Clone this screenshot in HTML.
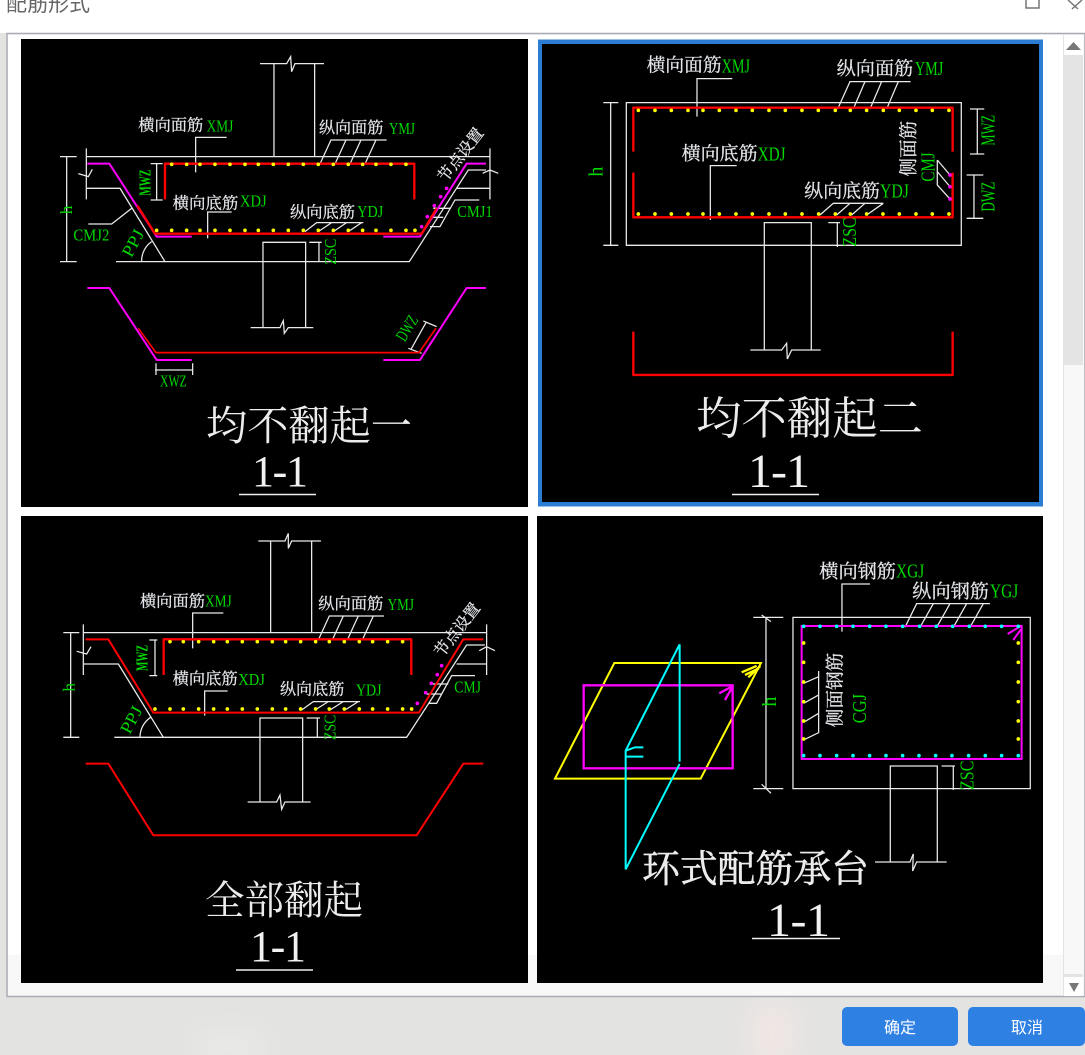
<!DOCTYPE html>
<html lang="zh"><head><meta charset="utf-8"><title>配筋形式</title>
<style>
html,body{margin:0;padding:0;width:1085px;height:1055px;overflow:hidden;background:#e3e3e2}
svg{position:absolute;left:0;top:0;display:block}
.w{fill:none;stroke:#eaeaea;stroke-width:3.8}
.r{fill:none;stroke:#f00;stroke-width:7;stroke-linejoin:round}
.m{fill:none;stroke:#f0f;stroke-width:6}
.y{fill:none;stroke:#ff0;stroke-width:11;stroke-linecap:round}
.d{fill:none;stroke:#f0f;stroke-width:11;stroke-linecap:round}
.e{fill:none;stroke:#0ff;stroke-width:11;stroke-linecap:round}
.c{fill:#e4e6ea;stroke:#e4e6ea;stroke-width:.8;font-family:"Liberation Serif","Noto Serif CJK SC",serif;font-size:48px}
.g{fill:#00d800;font-family:"Liberation Serif",serif;font-size:52px}
.h{font-size:60px}
.t{fill:#ececec;font-family:"Liberation Serif","Noto Serif CJK SC",serif}
.n{fill:#f2f2f2;font-family:"Liberation Serif",serif;font-size:44px}
.b{fill:#fff;font-family:"Liberation Sans","Noto Sans CJK SC",sans-serif;font-size:16px;text-anchor:middle}
</style></head><body>
<svg width="1085" height="1055" viewBox="0 0 1085 1055" xmlns="http://www.w3.org/2000/svg">
<defs><filter id="bl" x="-100%" y="-100%" width="300%" height="300%"><feGaussianBlur stdDeviation="12"/></filter></defs>
<rect width="1085" height="1055" fill="#e3e3e2"/>
<rect x="750" y="1005" width="45" height="60" fill="#f0e6e4" filter="url(#bl)"/>
<rect x="195" y="1030" width="70" height="35" fill="#e8e8e6" filter="url(#bl)"/>
<rect width="1085" height="33" fill="#fff"/>
<text x="6" y="11" font-size="21" fill="#666" font-family="'Liberation Sans','Noto Sans CJK SC',sans-serif">配筋形式</text>
<path d="M1026 0V8H1039V0" fill="none" stroke="#777" stroke-width="1.500"/>
<path d="M1068 0L1078 9M1082 0L1072 9" fill="none" stroke="#777" stroke-width="1.500"/>
<rect x="7" y="33.500" width="1078" height="963" fill="#f8f8f8" stroke="#a9abb3" stroke-width="1.500"/>
<rect x="8" y="35" width="1055" height="920" fill="#fff"/>
<rect x="1063" y="34" width="20" height="962" fill="#e4e4e4"/>
<rect x="1064" y="35" width="19" height="20" fill="#fff"/>
<path d="M1066 50L1073.500 42L1081 50Z" fill="#777"/>
<rect x="1064" y="365" width="19" height="609" fill="#f8f8f8"/>
<rect x="1064" y="977" width="19" height="19" fill="#fff"/>
<path d="M1069 983H1079L1074 992Z" fill="#777"/>
<rect x="21" y="39" width="507" height="468" fill="#000"/>
<rect x="538" y="39.500" width="505" height="467" fill="#2b7cd3"/>
<rect x="542" y="44" width="497" height="458" fill="#000"/>
<rect x="21" y="516" width="507" height="467" fill="#000"/>
<rect x="537" y="516" width="506" height="467" fill="#000"/>

<!-- Panel 1 -->
<g transform="translate(20 40) scale(.3333)">
<path class="w" d="M720 71H800L812 50L815 95L825 71H912M762 71V350M884 71V350M200 350H1410M199 325V478M1410 325V478M200 445H300L435 665M288 665H1168L1345 390H1398M1310 445H1410M365 665A70 70 0 0 1 395 605M140 350V665M120 350H170M120 665H170M175 401L205 410L217 388M1388 400L1410 390L1435 400M620 292H527V397M1100 300H933L900 372M978 300L945 372M1023 300L990 372M1068 300L1035 372M635 516H563V595M1030 548H890L855 575M935 548L895 575M980 548L940 575M1025 548L985 575M410 371V480M392 371H428M392 480H428M729 863V607H857V863M692 863H780L790 842L793 880L805 863H880M868 607H905M897 607V665M205 552H275L335 505M1378 480H1305L1260 560H1230M1240 505H1290M1230 532H1270M1218 848L1172 930M1210 843L1250 860M1165 925L1205 940M405 990H520M408 970V1005M518 970V1005"/>
<path class="m" d="M202 371H268L410 590H515M1090 590H1200L1340 371H1398M202 744H268L410 960H515M1090 960H1200L1340 744H1398"/>
<path class="r" d="M435 478V371H1183V478M352 497L405 581H1205L1250 505"/>
<path class="r" style="stroke-width:5" d="M355 865L408 938H1197L1248 865"/>
<path class="y" d="M455 373h.01M500 373h.01M540 373h.01M585 373h.01M630 373h.01M675 373h.01M715 373h.01M760 373h.01M805 373h.01M850 373h.01M895 373h.01M940 373h.01M985 373h.01M1028 373h.01M1068 373h.01M1113 373h.01M1158 373h.01M410 571h.01M455 571h.01M500 571h.01M540 571h.01M585 571h.01M630 571h.01M675 571h.01M715 571h.01M760 571h.01M805 571h.01M850 571h.01M895 571h.01M940 571h.01M985 571h.01M1028 571h.01M1068 571h.01M1113 571h.01M1158 571h.01M1185 571h.01"/>
<path class="d" d="M1205 560h.01M1222 530h.01M1243 497h.01M1262 470h.01M1280 445h.01"/>
<text class="c" x="355" y="272" textLength="195" lengthAdjust="spacingAndGlyphs">横向面筋</text>
<text class="g" x="560" y="274" textLength="80" lengthAdjust="spacingAndGlyphs">XMJ</text>
<text class="c" x="897" y="279" textLength="193" lengthAdjust="spacingAndGlyphs">纵向面筋</text>
<text class="g" x="1107" y="282" textLength="78" lengthAdjust="spacingAndGlyphs">YMJ</text>
<text class="c" x="458" y="505" textLength="197" lengthAdjust="spacingAndGlyphs">横向底筋</text>
<text class="g" x="660" y="499" textLength="80" lengthAdjust="spacingAndGlyphs">XDJ</text>
<text class="c" x="810" y="532" textLength="195" lengthAdjust="spacingAndGlyphs">纵向底筋</text>
<text class="g" x="1012" y="531" textLength="78" lengthAdjust="spacingAndGlyphs">YDJ</text>
<text class="g" x="160" y="602" textLength="108" lengthAdjust="spacingAndGlyphs">CMJ2</text>
<text class="g" x="1312" y="531" textLength="106" lengthAdjust="spacingAndGlyphs">CMJ1</text>
<text class="g" x="420" y="1039" textLength="80" lengthAdjust="spacingAndGlyphs">XWZ</text>
<g text-anchor="middle">
<text class="c" transform="translate(1322 345) rotate(-52)" y="16" textLength="190" lengthAdjust="spacingAndGlyphs">节点设置</text>
<text class="g" transform="translate(340 610) rotate(-62)" y="16" textLength="85" lengthAdjust="spacingAndGlyphs">PPJ</text>
<text class="g" transform="translate(140 510) rotate(-90)" y="16">h</text>
<text class="g" transform="translate(932 635) rotate(-90)" y="16" textLength="78" lengthAdjust="spacingAndGlyphs">ZSC</text>
<text class="g" style="font-weight:bold" transform="translate(375 428) rotate(-90)" y="16" textLength="78" lengthAdjust="spacingAndGlyphs">MWZ</text>
<text class="g" transform="translate(1162 865) rotate(-58)" y="16" textLength="80" lengthAdjust="spacingAndGlyphs">DWZ</text>
</g>
</g>
<text class="t" x="206" y="440" font-size="41" textLength="206" lengthAdjust="spacingAndGlyphs">均不翻起一</text>
<text class="n" x="252" y="486" textLength="56" lengthAdjust="spacing">1-1</text>
<path d="M239 494.500H316" stroke="#eee" stroke-width="1.500"/>

<!-- Panel 2 -->
<g transform="translate(535 35) scale(.3333)">
<path class="w" d="M274 203H1279V631H274ZM592 131H486V245M1127 140H945L908 222M990 140L955 222M1040 140L1005 222M1090 140L1055 222M605 392H526V555M1045 505H895L855 540M945 505L905 540M990 505L950 540M1045 505L995 540M646 945H740L755 925L757 972L770 945H857M688 945V563H829V945M880 563H915M907 563V636M227 203V631M205 203H250M205 631H250M1327 222V357M1305 222H1348M1305 357H1348M1317 420V550M1295 420H1345M1295 550H1345M1207 375L1245 420M1207 410L1245 455M1207 375V450L1245 492"/>
<path class="r" d="M295 350V218H1253V350M295 413V547H1253V413M295 890V1020H1253V890"/>
<path class="y" d="M310 226h.01M360 226h.01M409 226h.01M459 226h.01M504 226h.01M553 226h.01M603 226h.01M652 226h.01M702 226h.01M751 226h.01M801 226h.01M850 226h.01M901 226h.01M946 226h.01M995 226h.01M1045 226h.01M1093 226h.01M1143 226h.01M1192 226h.01M1242 226h.01M310 537h.01M360 537h.01M409 537h.01M459 537h.01M504 537h.01M553 537h.01M603 537h.01M652 537h.01M702 537h.01M751 537h.01M801 537h.01M851 537h.01M901 537h.01M946 537h.01M995 537h.01M1044 537h.01M1093 537h.01M1143 537h.01M1192 537h.01M1242 537h.01"/>
<path class="d" d="M1245 420h.01M1245 455h.01M1245 492h.01"/>
<text class="c" style="font-size:56px" x="335" y="110" textLength="225" lengthAdjust="spacingAndGlyphs">横向面筋</text>
<text class="c" style="font-size:56px" x="905" y="120" textLength="230" lengthAdjust="spacingAndGlyphs">纵向面筋</text>
<text class="c" style="font-size:56px" x="440" y="375" textLength="228" lengthAdjust="spacingAndGlyphs">横向底筋</text>
<text class="c" style="font-size:56px" x="808" y="487" textLength="227" lengthAdjust="spacingAndGlyphs">纵向底筋</text>
<text class="g h" x="560" y="112" textLength="85" lengthAdjust="spacingAndGlyphs">XMJ</text>
<text class="g h" x="1140" y="120" textLength="85" lengthAdjust="spacingAndGlyphs">YMJ</text>
<text class="g h" x="668" y="376" textLength="84" lengthAdjust="spacingAndGlyphs">XDJ</text>
<text class="g h" x="1035" y="488" textLength="87" lengthAdjust="spacingAndGlyphs">YDJ</text>
<g text-anchor="middle">
<text class="g h" transform="translate(185 410) rotate(-90)" y="18">h</text>
<text class="g h" transform="translate(945 591) rotate(-90)" y="18" textLength="87" lengthAdjust="spacingAndGlyphs">ZSC</text>
<text class="g h" transform="translate(1360 286) rotate(-90)" y="18" textLength="92" lengthAdjust="spacingAndGlyphs">MWZ</text>
<text class="g h" transform="translate(1360 485) rotate(-90)" y="18" textLength="90" lengthAdjust="spacingAndGlyphs">DWZ</text>
<text class="g h" transform="translate(1180 396) rotate(-90)" y="18" textLength="88" lengthAdjust="spacingAndGlyphs">CMJ</text>
<text class="c" style="font-size:56px" transform="translate(1120 341) rotate(-90)" y="20" textLength="167" lengthAdjust="spacingAndGlyphs">侧面筋</text>
</g>
</g>
<text class="t" x="696" y="434" font-size="45" textLength="227" lengthAdjust="spacingAndGlyphs">均不翻起二</text>
<text class="n" x="748" y="487" style="font-size:48px" textLength="62" lengthAdjust="spacing">1-1</text>
<path d="M732 494.500H819" stroke="#eee" stroke-width="1.500"/>

<!-- Panel 3 -->
<g transform="translate(20 520) scale(.3333)">
<path class="w" d="M715 63H795L805 40L805 85L815 63H903M752 63V338M875 63V338M190 338H1398M190 313V465M1400 313V465M190 432H295L430 652M283 652H1160L1340 375H1395M1310 432H1400M152 338V652M130 338H178M130 652H178M170 394L200 402L213 380M1378 392L1400 380L1425 392M405 360V467M388 360H412M388 467H412M610 279H518V385M1092 288H928L895 360M970 288L937 360M1015 288L982 360M1060 288L1027 360M623 513H554V587M1020 545H880L845 570M925 545L885 570M970 545L930 570M1015 545L975 570M683 846H770L780 825L785 868L795 846H872M720 846V594H848V846M860 594H900M892 594V652M360 652A72 72 0 0 1 392 592M1365 467H1295L1250 550H1225M1235 492H1285M1220 522H1265"/>
<path class="r" d="M431 465V358H1174V465"/>
<path class="r" style="stroke-width:6" d="M197 358H265L400 578H1197L1330 358H1390M197 731H265L400 946H1190L1330 731H1390"/>
<path class="y" d="M450 365h.01M490 365h.01M536 365h.01M581 365h.01M622 365h.01M667 365h.01M712 365h.01M757 365h.01M797 365h.01M842 365h.01M887 365h.01M928 365h.01M973 365h.01M1018 365h.01M1058 365h.01M1103 365h.01M1148 365h.01M405 567h.01M450 567h.01M490 567h.01M536 567h.01M581 567h.01M622 567h.01M667 567h.01M712 567h.01M757 567h.01M797 567h.01M842 567h.01M887 567h.01M928 567h.01M973 567h.01M1018 567h.01M1058 567h.01M1103 567h.01M1148 567h.01M1175 567h.01"/>
<path class="d" d="M1192 550h.01M1217 518h.01M1234 490h.01M1252 464h.01M1265 437h.01"/>
<text class="c" x="360" y="260" textLength="195" lengthAdjust="spacingAndGlyphs">横向面筋</text>
<text class="g" x="555" y="260" textLength="80" lengthAdjust="spacingAndGlyphs">XMJ</text>
<text class="c" x="895" y="267" textLength="195" lengthAdjust="spacingAndGlyphs">纵向面筋</text>
<text class="g" x="1103" y="270" textLength="79" lengthAdjust="spacingAndGlyphs">YMJ</text>
<text class="c" x="458" y="492" textLength="195" lengthAdjust="spacingAndGlyphs">横向底筋</text>
<text class="g" x="655" y="495" textLength="80" lengthAdjust="spacingAndGlyphs">XDJ</text>
<text class="c" x="780" y="524" textLength="193" lengthAdjust="spacingAndGlyphs">纵向底筋</text>
<text class="g" x="1008" y="527" textLength="77" lengthAdjust="spacingAndGlyphs">YDJ</text>
<text class="g" x="1303" y="517" textLength="80" lengthAdjust="spacingAndGlyphs">CMJ</text>
<g text-anchor="middle">
<text class="c" transform="translate(1312 330) rotate(-52)" y="16" textLength="190" lengthAdjust="spacingAndGlyphs">节点设置</text>
<text class="g" transform="translate(335 600) rotate(-62)" y="16" textLength="85" lengthAdjust="spacingAndGlyphs">PPJ</text>
<text class="g" transform="translate(148 502) rotate(-90)" y="16">h</text>
<text class="g" transform="translate(930 622) rotate(-90)" y="16" textLength="76" lengthAdjust="spacingAndGlyphs">ZSC</text>
<text class="g" style="font-weight:bold" transform="translate(367 414) rotate(-90)" y="16" textLength="78" lengthAdjust="spacingAndGlyphs">MWZ</text>
</g>
</g>
<text class="t" x="205" y="914" font-size="40" textLength="158" lengthAdjust="spacingAndGlyphs">全部翻起</text>
<text class="n" x="250" y="961" textLength="56" lengthAdjust="spacing">1-1</text>
<path d="M236 970H313" stroke="#eee" stroke-width="1.500"/>

<!-- Panel 4 -->
<g transform="translate(535 540) scale(.3333)">
<path d="M238 369H678L497 716H60Z" fill="none" stroke="#ff0" stroke-width="6"/>
<path d="M620 397L665 378M630 405L672 385M640 412L676 378" fill="none" stroke="#ff0" stroke-width="7"/>
<rect x="146" y="436" width="447" height="249" fill="none" stroke="#f0f" stroke-width="7"/>
<path d="M553 460L590 440M570 480L590 445" fill="none" stroke="#f0f" stroke-width="7"/>
<path d="M434 313L272 632V988L434 672M434 313V665M272 632L300 622H325M272 650H325" fill="none" stroke="#0ff" stroke-width="6"/>
<path class="w" d="M774 232H1486V746H774ZM1005 132H921V275M1365 191H1145L1110 262M1195 191L1155 262M1245 191L1205 262M1295 191L1255 262M1345 191L1305 262M851 393V578L806 600M851 410L806 430M851 465L806 490M851 520L806 547M693 232V746M655 232H745M655 746H745M680 225L708 245M680 733L708 760M1220 678H1260M1255 678V750M1020 966H1125L1135 942L1133 993L1145 966H1235M1066 966V678H1207V966"/>
<rect x="800" y="258" width="660" height="399" fill="none" stroke="#f0f" stroke-width="6"/>
<path d="M1418 282L1458 258M1435 300L1458 268" fill="none" stroke="#f0f" stroke-width="6"/>
<path class="e" d="M806 259h.01M855 259h.01M905 259h.01M954 259h.01M1004 259h.01M1053 259h.01M1103 259h.01M1154 259h.01M1204 259h.01M1253 259h.01M1303 259h.01M1351 259h.01M1400 259h.01M1450 259h.01M806 647h.01M855 647h.01M905 647h.01M954 647h.01M1004 647h.01M1053 647h.01M1103 647h.01M1152 647h.01M1202 647h.01M1251 647h.01M1301 647h.01M1351 647h.01M1400 647h.01M1450 647h.01"/>
<path class="y" d="M806 309h.01M806 367h.01M806 426h.01M806 485h.01M806 543h.01M806 597h.01M1450 309h.01M1450 367h.01M1450 426h.01M1450 485h.01M1450 543h.01M1450 597h.01"/>
<text class="c" style="font-size:57px" x="853" y="113" textLength="230" lengthAdjust="spacingAndGlyphs">横向钢筋</text>
<text class="g h" x="1083" y="113" textLength="85" lengthAdjust="spacingAndGlyphs">XGJ</text>
<text class="c" style="font-size:57px" x="1132" y="172" textLength="230" lengthAdjust="spacingAndGlyphs">纵向钢筋</text>
<text class="g h" x="1365" y="172" textLength="85" lengthAdjust="spacingAndGlyphs">YGJ</text>
<g text-anchor="middle">
<text class="c" style="font-size:56px" transform="translate(900 450) rotate(-90)" y="20" textLength="224" lengthAdjust="spacingAndGlyphs">侧面钢筋</text>
<text class="g h" transform="translate(975 506) rotate(-90)" y="18" textLength="88" lengthAdjust="spacingAndGlyphs">CGJ</text>
<text class="g h" transform="translate(705 485) rotate(-90)" y="18">h</text>
<text class="g h" transform="translate(1297 706) rotate(-90)" y="18" textLength="88" lengthAdjust="spacingAndGlyphs">ZSC</text>
</g>
</g>
<text class="t" x="642" y="882" font-size="38" stroke="#ececec" stroke-width=".5" textLength="227" lengthAdjust="spacingAndGlyphs">环式配筋承台</text>
<text class="n" x="767" y="936" style="font-size:48px" textLength="63" lengthAdjust="spacing">1-1</text>
<path d="M752 938.500H840" stroke="#eee" stroke-width="1.500"/>

<rect x="842" y="1007" width="116" height="39" rx="5" fill="#2f80e3"/>
<rect x="968" y="1007" width="117" height="39" rx="5" fill="#2f80e3"/>
<text class="b" x="900" y="1033">确定</text>
<text class="b" x="1027" y="1033">取消</text>
</svg>
</body></html>
